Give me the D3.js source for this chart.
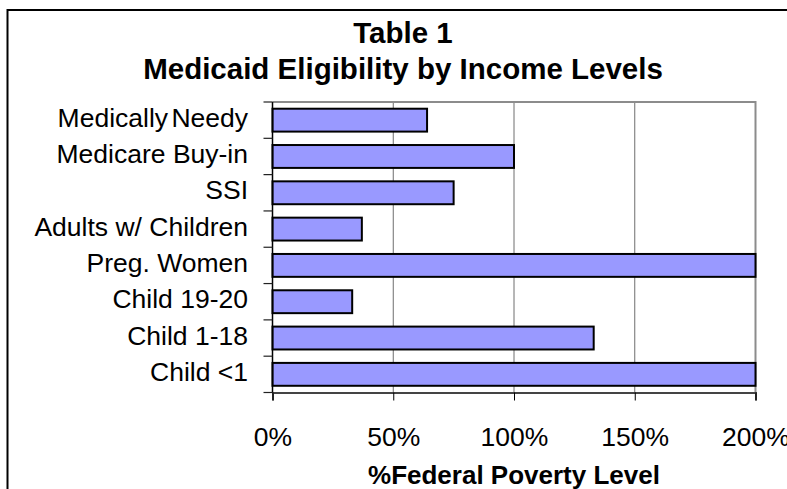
<!DOCTYPE html>
<html>
<head>
<meta charset="utf-8">
<script src="https://cdn.jsdelivr.net/npm/d3@7"></script>
<style>
  html, body { margin: 0; padding: 0; background: #fff; }
  svg { display: block; }
</style>
</head>
<body>
<svg id="chart" width="787" height="489"></svg>
<script>
// Eligibility groups, top to bottom
const categories = [
  "Medically Needy",
  "Medicare Buy-in",
  "SSI",
  "Adults w/ Children",
  "Preg. Women",
  "Child 19-20",
  "Child 1-18",
  "Child <1"
];
// Income limit as a share of the federal poverty level (1 = 100%)
const values = [0.64, 1.00, 0.75, 0.37, 2.00, 0.33, 1.33, 2.00];
const xTicks = [0, 0.5, 1, 1.5, 2];
const titleLines = ["Table 1", "Medicaid Eligibility by Income Levels"];
const xAxisTitle = "%Federal Poverty Level";

const svg = d3.select("#chart");
const font = "'Liberation Sans', Arial, sans-serif";

const plot = { left: 272.5, right: 755.5, top: 102, bottom: 392.5 };

// outer frame (runs off the right and bottom edges)
svg.append("rect")
  .attr("x", 7.5).attr("y", 10)
  .attr("width", 800).attr("height", 500)
  .attr("fill", "#fff").attr("stroke", "#000").attr("stroke-width", 2);

// titles
svg.selectAll("text.title")
  .data(titleLines)
  .join("text")
  .attr("class", "title")
  .attr("x", 403)
  .attr("y", (d, i) => i === 0 ? 43 : 79)
  .attr("text-anchor", "middle")
  .attr("font-family", font)
  .attr("font-weight", "bold")
  .attr("font-size", 29.5)
  .attr("fill", "#000")
  .text(d => d);

const x = d3.scaleLinear().domain([0, 2]).range([plot.left, plot.right]);
const y = d3.scaleBand()
  .domain(categories)
  .range([plot.top, plot.bottom])
  .paddingInner(0.37)
  .paddingOuter(0.185);

// gridlines
svg.append("g")
  .selectAll("line")
  .data(xTicks.filter(t => t > 0 && t < 2))
  .join("line")
  .attr("x1", d => x(d)).attr("x2", d => x(d))
  .attr("y1", plot.top).attr("y2", plot.bottom)
  .attr("stroke", "#6e6e6e").attr("stroke-width", 1);

// plot border: top and right in grey
svg.append("path")
  .attr("d", `M${plot.left},${plot.top}H${plot.right}V${plot.bottom}`)
  .attr("fill", "none").attr("stroke", "#8c8c8c").attr("stroke-width", 2);

// bars
svg.append("g")
  .selectAll("rect")
  .data(categories.map((c, i) => ({ c, v: values[i] })))
  .join("rect")
  .attr("x", x(0))
  .attr("y", d => y(d.c))
  .attr("width", d => x(d.v) - x(0))
  .attr("height", y.bandwidth())
  .attr("fill", "#9999ff")
  .attr("stroke", "#000")
  .attr("stroke-width", 2);

// x axis
const xAxis = d3.axisBottom(x)
  .tickValues(xTicks)
  .tickFormat(d3.format(".0%"))
  .tickSize(8)
  .tickPadding(27);
const gx = svg.append("g")
  .attr("transform", `translate(0,${plot.bottom})`)
  .call(xAxis);
gx.select(".domain").attr("stroke", "#444").attr("stroke-width", 2);
gx.selectAll(".tick line").attr("stroke", "#000");
gx.selectAll(".tick text")
  .attr("font-family", font)
  .attr("font-size", 26.5)
  .attr("fill", "#000");

// y axis line with ticks at band boundaries
const boundaries = d3.range(categories.length + 1)
  .map(i => plot.top + i * y.step());
svg.append("line")
  .attr("x1", plot.left).attr("x2", plot.left)
  .attr("y1", plot.top).attr("y2", plot.bottom)
  .attr("stroke", "#000").attr("stroke-width", 1.5);
svg.append("g")
  .selectAll("line")
  .data(boundaries)
  .join("line")
  .attr("x1", plot.left - 9).attr("x2", plot.left)
  .attr("y1", d => d).attr("y2", d => d)
  .attr("stroke", "#222").attr("stroke-width", 1.2);

// category labels
svg.append("g")
  .selectAll("text")
  .data(categories)
  .join("text")
  .attr("x", 248)
  .attr("y", d => y(d) + y.bandwidth() / 2 + 6.5)
  .attr("text-anchor", "end")
  .attr("font-family", font)
  .attr("font-size", 26.5)
  .attr("word-spacing", d => d === "Medically Needy" ? -4 : 0)
  .attr("fill", "#000")
  .text(d => d);

// x axis title
svg.append("text")
  .attr("x", (plot.left + plot.right) / 2)
  .attr("y", 484)
  .attr("text-anchor", "middle")
  .attr("font-family", font)
  .attr("font-weight", "bold")
  .attr("font-size", 26)
  .attr("fill", "#000")
  .text(xAxisTitle);
</script>
</body>
</html>
